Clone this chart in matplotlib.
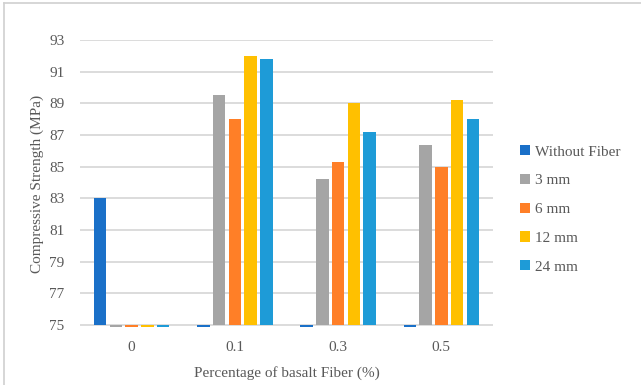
import matplotlib
matplotlib.use("Agg")
import matplotlib.pyplot as plt
from matplotlib.patches import Patch
from matplotlib.lines import Line2D

categories = ["0", "0.1", "0.3", "0.5"]
series_names = ["Without Fiber", "3 mm", "6 mm", "12 mm", "24 mm"]
without_fiber = [83.0, 0, 0, 0]
fiber_3mm = [0, 89.5, 84.2, 86.4]
fiber_6mm = [0, 88.0, 85.3, 85.0]
fiber_12mm = [0, 92.0, 89.0, 89.2]
fiber_24mm = [0, 91.8, 87.2, 88.0]
y_ticks = [75, 77, 79, 81, 83, 85, 87, 89, 91, 93]

colors = ["#1A70C8", "#A5A5A5", "#FF7F27", "#FFC000", "#1E9BD7"]
text_color = "#595959"
plt.rcParams["font.family"] = ["Liberation Serif", "DejaVu Serif"]

fig = plt.figure(figsize=(6.41, 3.85), dpi=100)
ax = fig.add_axes([80 / 641, 0.1506, 413 / 641, 0.7455])

base = 75
step = 0.153
width = 0.121
all_series = [without_fiber, fiber_3mm, fiber_6mm, fiber_12mm, fiber_24mm]
for i, (vals, col) in enumerate(zip(all_series, colors)):
    xs = [k + (i - 2) * step for k in range(len(categories))]
    ax.bar(xs, [v - base for v in vals], width=width, bottom=base,
           color=col, zorder=3)

ax.set_xlim(-0.5, len(categories) - 0.5)
ax.set_ylim(74.88, 93)
ax.set_yticks(y_ticks)
ax.set_xticks(range(len(categories)))
ax.set_xticklabels(categories)
ax.grid(axis="y", color="#D9D9D9", linewidth=1.3, zorder=0)
for s in ax.spines.values():
    s.set_visible(False)
ax.tick_params(length=0, labelsize=11, colors=text_color)
ax.tick_params(axis="y", pad=11)
ax.tick_params(axis="x", pad=10)
ax.set_xlabel("Percentage of basalt Fiber (%)", fontsize=11, color=text_color, labelpad=9)
ax.set_ylabel("Compressive Strength (MPa)", fontsize=11, color=text_color, labelpad=4)

handles = [Patch(facecolor=c, edgecolor="none") for c in colors]
fig.legend(handles, series_names, loc="upper left",
           bbox_to_anchor=(514 / 641, 1 - 139 / 385), frameon=False,
           fontsize=11, labelcolor=text_color, handlelength=0.65,
           handleheight=0.65, handletextpad=0.3, labelspacing=1.0,
           borderaxespad=0)

# thin outer frame along the top and left
fig.add_artist(Line2D([4 / 641, 4 / 641], [0, 1 - 3 / 385], transform=fig.transFigure,
                      color="#D0D0D0", linewidth=1.2))
fig.add_artist(Line2D([4 / 641, 1], [1 - 3 / 385, 1 - 3 / 385], transform=fig.transFigure,
                      color="#D0D0D0", linewidth=1.2))

fig.savefig("out.png", dpi=100)
